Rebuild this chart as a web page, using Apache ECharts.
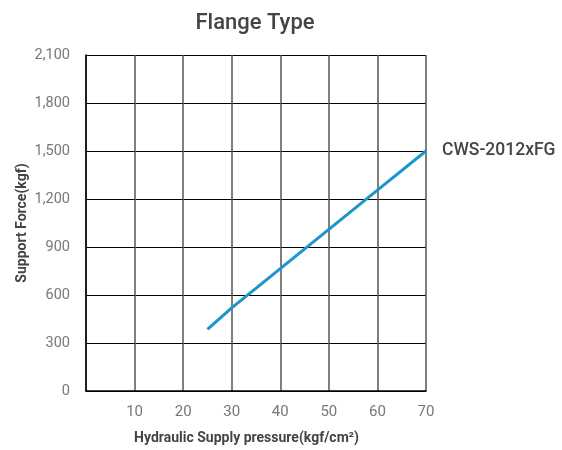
<!DOCTYPE html>
<html><head><meta charset="utf-8">
<script src="https://cdn.jsdelivr.net/npm/echarts@6/dist/echarts.min.js"></script>
<style>html,body{margin:0;padding:0;background:#fff}#c{width:562px;height:450px}</style>
</head><body><div id="c"></div>
<script>
var title = 'Flange Type';
var seriesName = 'CWS-2012xFG';
var pressure = [25, 30, 50, 60, 70];
var force = [385, 520, 1010, 1255, 1500];
var xName = 'Hydraulic Supply pressure(kgf/cm²)';
var yName = 'Support Force(kgf)';

var font = "'Roboto', sans-serif";
var chart = echarts.init(document.getElementById('c'));
chart.setOption({
  animation: false,
  title: {text: title, left: 250, top: 7, textAlign: 'center',
    textStyle: {fontFamily: font, fontSize: 22, fontWeight: 500, color: '#444'}},
  grid: {left: 86, right: 136, top: 55, bottom: 59, outerBoundsMode: 'none', containLabel: false},
  xAxis: {type: 'value', min: 0, max: 70, interval: 10,
    name: xName, nameLocation: 'middle', nameGap: 40,
    nameTextStyle: {fontFamily: font, fontSize: 14, fontWeight: 'bold', color: '#444', padding: [0, 19, 0, 0]},
    axisLine: {show: true, lineStyle: {color: '#000', width: 1.5}},
    axisTick: {show: false},
    axisLabel: {margin: 14, fontFamily: font, fontSize: 15, color: '#777',
      formatter: function(v){ return v === 0 ? '' : String(v); }},
    splitLine: {show: true, lineStyle: {color: '#555', width: 1.5}}},
  yAxis: {type: 'value', min: 0, max: 2100, interval: 300,
    name: yName, nameLocation: 'middle', nameGap: 57, nameRotate: 90, nameMoveOverlap: false,
    nameTextStyle: {fontFamily: font, fontSize: 14, fontWeight: 'bold', color: '#444'},
    axisLine: {show: true, lineStyle: {color: '#000', width: 1.5}},
    axisTick: {show: false},
    axisLabel: {margin: 16, fontFamily: font, fontSize: 14.5, color: '#777',
      formatter: function(v){ return v.toLocaleString('en-US'); }},
    splitLine: {show: true, lineStyle: {color: '#000', width: 1.2}}},
  series: [{type: 'line', name: seriesName, showSymbol: false, smooth: false,
    data: pressure.map(function(p, i){ return [p, force[i]]; }),
    lineStyle: {color: '#1b95cc', width: 3},
    endLabel: {show: true, formatter: seriesName, distance: 16,
      fontFamily: font, fontSize: 17.5, fontWeight: 500, color: '#444'}}]
});
</script></body></html>
